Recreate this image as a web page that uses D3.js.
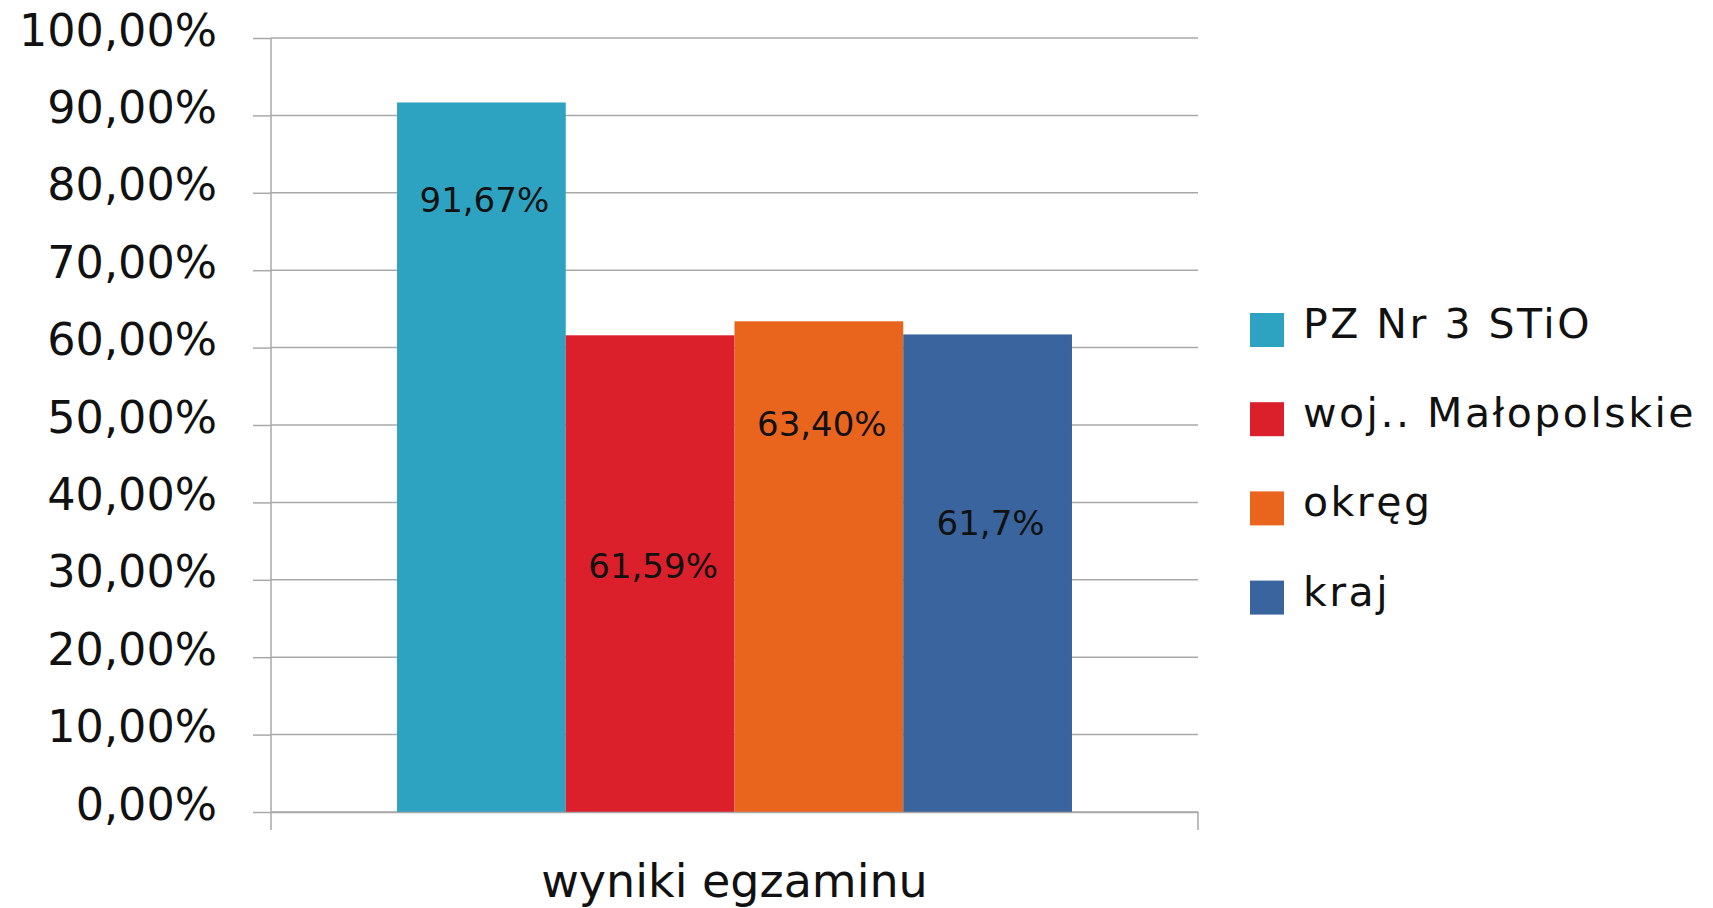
<!DOCTYPE html>
<html>
<head>
    <meta charset="utf-8">
    <title>wyniki egzaminu</title>
    <script type="text/javascript" src="https://cdn.jsdelivr.net/npm/d3@7"></script>
    <style>
        body { margin: 0; background: #fff; }
        text { font-family: "DejaVu Sans", sans-serif; fill: #111; }
    </style>
</head>

<body>
<script type="text/javascript">
// data
let categories = ['wyniki egzaminu']
let series = ['PZ Nr 3 STiO', 'woj.. Małopolskie', 'okręg', 'kraj']
let values = [0.9167, 0.6159, 0.6340, 0.617]
let valueLabels = ['91,67%', '61,59%', '63,40%', '61,7%']
let yTicks = [0, 0.1, 0.2, 0.3, 0.4, 0.5, 0.6, 0.7, 0.8, 0.9, 1]

let colors = ['#2ea3c1', '#db1f2b', '#e9651e', '#3a649d']
// where the value label baseline sits, as a share of the bar height
let labelDepth = [0.845, 0.491, 0.766, 0.579]

let width = 1713,
    height = 908,
    plotLeft = 271,
    plotRight = 1198,
    plotTop = 38,
    plotBottom = 812,
    tickLen = 18,
    gridColor = '#a9a9a9'

let pl = d3.formatLocale({decimal: ',', thousands: ' ', grouping: [3], currency: ['', ' zł']})
let fmt = pl.format('.2%')

let svg = d3.select('body').append('svg')
    .attr('width', width)
    .attr('height', height)

let y = d3.scaleLinear().domain([0, 1]).range([plotBottom, plotTop])

let x0 = d3.scaleBand()
    .domain(categories)
    .range([plotLeft, plotRight])
    .paddingInner(0)
    .paddingOuter(0.1867)

let x1 = d3.scaleBand()
    .domain(series)
    .range([0, x0.bandwidth()])

// grid
svg.append('g')
    .selectAll('line')
    .data(yTicks)
    .join('line')
    .attr('x1', plotLeft).attr('x2', plotRight)
    .attr('y1', d => y(d)).attr('y2', d => y(d))
    .attr('stroke', gridColor)
    .attr('stroke-width', 1.5)

// y axis
let yAxis = svg.append('g')
    .attr('transform', 'translate(' + plotLeft + ',0)')
    .call(d3.axisLeft(y).tickValues(yTicks).tickFormat(fmt).tickSize(tickLen).tickPadding(36))
yAxis.attr('font-family', null).attr('font-size', null)
yAxis.select('.domain').remove()
yAxis.selectAll('.tick line').attr('stroke', gridColor).attr('stroke-width', 1.5)
yAxis.selectAll('.tick text')
    .attr('dy', 7)
    .style('font-size', '44.5px')
    .attr('fill', '#111')

svg.append('line')
    .attr('x1', plotLeft).attr('x2', plotLeft)
    .attr('y1', plotTop).attr('y2', plotBottom + tickLen)
    .attr('stroke', gridColor).attr('stroke-width', 1.5)

// bars
let group = svg.append('g')
    .selectAll('g')
    .data(categories)
    .join('g')
    .attr('transform', d => 'translate(' + x0(d) + ',0)')

let rows = series.map((s, i) => ({s: s, v: values[i], i: i}))

group.selectAll('rect')
    .data(rows)
    .join('rect')
    .attr('x', d => x1(d.s))
    .attr('width', x1.bandwidth())
    .attr('y', d => y(d.v))
    .attr('height', d => y(0) - y(d.v))
    .attr('fill', d => colors[d.i])

group.selectAll('text.val')
    .data(rows)
    .join('text')
    .classed('val', true)
    .attr('x', d => x1(d.s) + x1.bandwidth() / 2 + 3)
    .attr('y', d => y(d.v * labelDepth[d.i]))
    .attr('text-anchor', 'middle')
    .style('font-size', '34px')
    .text(d => valueLabels[d.i])

// x axis
let xAxis = svg.append('g')
    .attr('transform', 'translate(0,' + plotBottom + ')')
    .call(d3.axisBottom(x0).tickSize(0).tickSizeOuter(0))
xAxis.attr('font-family', null).attr('font-size', null)
xAxis.select('.domain').attr('stroke', gridColor).attr('stroke-width', 1.5)
xAxis.selectAll('.tick text')
    .attr('y', 0)
    .attr('dy', 85)
    .style('font-size', '46px')
    .attr('fill', '#111')

svg.append('line')
    .attr('x1', plotRight).attr('x2', plotRight)
    .attr('y1', plotBottom).attr('y2', plotBottom + tickLen)
    .attr('stroke', gridColor).attr('stroke-width', 1.5)

// legend
let legend = svg.append('g')
    .attr('transform', 'translate(1250,313)')
    .selectAll('g')
    .data(series)
    .join('g')
    .attr('transform', (d, i) => 'translate(0,' + i * 89.2 + ')')

legend.append('rect')
    .attr('width', 34).attr('height', 34)
    .attr('fill', (d, i) => colors[i])

legend.append('text')
    .attr('x', 53)
    .attr('y', 25)
    .style('font-size', '41px')
    .style('letter-spacing', '2.5px')
    .text(d => d)

</script>
</body>
</html>
